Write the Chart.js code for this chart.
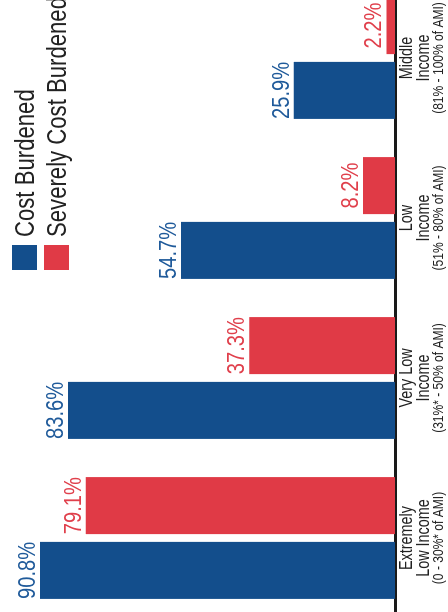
<!DOCTYPE html>
<html lang="en">
<head>
    <meta charset="UTF-8">
    <title>Cost Burdened Households by Income</title>
    <script src="https://cdn.jsdelivr.net/npm/chart.js@4.4.0/dist/chart.umd.min.js"></script>
    <style>
        body {
            margin: 0;
            background: #fff;
            overflow: hidden;
            width: 448px;
            height: 612px;
        }

        /* chart is drawn upright and then turned a quarter to the left, like the scan */
        #wrap {
            position: absolute;
            left: 0;
            top: 0;
            width: 640px;
            height: 448px;
            transform-origin: 0 0;
            transform: translate(0, 618px) rotate(-90deg);
        }
    </style>
</head>
<body>
    <div id="wrap">
        <canvas id="chart" width="640" height="448"></canvas>
    </div>

    <script>
        const labelLines = [['Extremely', 'Low Income'], ['Very Low', 'Income'], ['Low', 'Income'], ['Middle', 'Income']];
        const amiRanges = ['(0 - 30%* of AMI)', '(31%* - 50% of AMI)', '(51% - 80% of AMI)', '(81% - 100% of AMI)'];
        const costBurdened = [90.8, 83.6, 54.7, 25.9];
        const severelyBurdened = [79.1, 37.3, 8.2, 2.2];
        const seriesNames = ['Cost Burdened', 'Severely Cost Burdened'];

        const BLUE = '#134e8c';
        const RED = '#e03a46';
        const FONT = '"Liberation Sans", Arial, sans-serif';

        // no condensed face installed, so squeeze a normal one sideways
        function narrowText(ctx, text, x, y, size, squeeze) {
            ctx.save();
            ctx.font = size + 'px ' + FONT;
            ctx.translate(x, y);
            ctx.scale(squeeze, 1);
            ctx.fillText(text, 0, 0);
            ctx.restore();
        }

        const labelPlugin = {
            id: 'labels',
            afterDraw(chart) {
                const ctx = chart.ctx;
                ctx.save();

                // values on top of the bars
                ctx.textAlign = 'center';
                ctx.textBaseline = 'alphabetic';
                chart.data.datasets.forEach((ds, i) => {
                    ctx.fillStyle = ds.labelColor;
                    chart.getDatasetMeta(i).data.forEach((bar, j) => {
                        narrowText(ctx, ds.data[j].toFixed(1) + '%', bar.x, bar.y - 5, 24, 0.84);
                    });
                });

                // category names under the axis
                const xs = chart.scales.x;
                ctx.fillStyle = '#222';
                labelLines.forEach((lines, i) => {
                    const cx = xs.getPixelForTick(i);
                    narrowText(ctx, lines[0], cx, 412, 18, 0.8);
                    narrowText(ctx, lines[1], cx, 429, 18, 0.8);
                    narrowText(ctx, amiRanges[i], cx, 443, 14, 0.86);
                });

                // legend
                ctx.textAlign = 'left';
                chart.data.datasets.forEach((ds, i) => {
                    const top = 12 + i * 32;
                    ctx.fillStyle = ds.backgroundColor;
                    ctx.fillRect(348, top, 25, 25);
                    ctx.fillStyle = '#222';
                    narrowText(ctx, ds.label, 381, top + 22, 27, 0.82);
                });

                ctx.restore();
            }
        };

        new Chart(document.getElementById('chart'), {
            type: 'bar',
            data: {
                labels: labelLines.map(l => l.join(' ')),
                datasets: [{
                    label: seriesNames[0],
                    data: costBurdened,
                    backgroundColor: BLUE,
                    labelColor: '#1f5a9a'
                }, {
                    label: seriesNames[1],
                    data: severelyBurdened,
                    backgroundColor: RED,
                    labelColor: '#e0404c'
                }]
            },
            options: {
                responsive: false,
                animation: false,
                devicePixelRatio: 1,
                categoryPercentage: 0.81,
                barPercentage: 0.88,
                layout: { padding: { top: 4, left: 0, right: 0, bottom: 0 } },
                scales: {
                    x: {
                        grid: { display: false },
                        border: { display: true, color: '#1a1a1a', width: 3 },
                        ticks: { display: false },
                        afterFit(scale) { scale.height = 53; }
                    },
                    y: {
                        display: false,
                        min: 0,
                        max: 100
                    }
                },
                plugins: {
                    legend: { display: false },
                    tooltip: { enabled: false }
                }
            },
            plugins: [labelPlugin]
        });
    </script>
</body>
</html>
